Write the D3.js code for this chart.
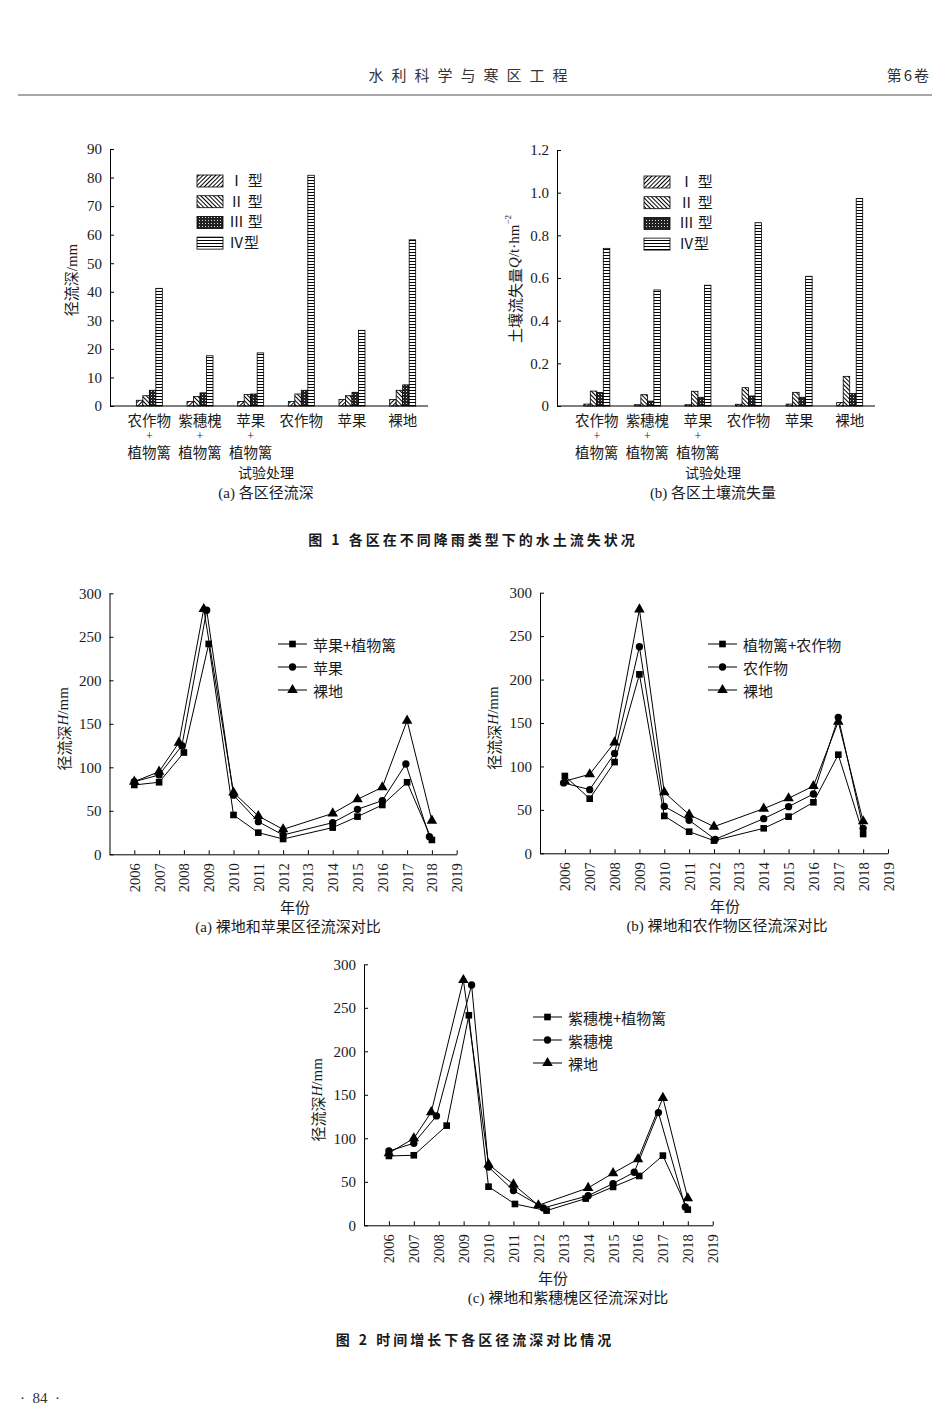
<!DOCTYPE html>
<html><head><meta charset="utf-8">
<script src="https://cdn.jsdelivr.net/npm/d3@7"></script>
<style>
body{margin:0;background:#fff}
text{font-family:"Liberation Serif","Noto Sans CJK SC",serif;fill:#1a1a1a}
</style>
</head><body><svg id="c" width="950" height="1426"></svg>
<script>
// ---------- DATA ----------
const barCategories = ["农作物+植物篱","紫穗槐+植物篱","苹果+植物篱","农作物","苹果","裸地"];
const barTypes = ["Ⅰ 型","Ⅱ 型","Ⅲ 型","Ⅳ型"];
const runoffTypeI   = [2.0, 1.6, 1.6, 1.6, 2.3, 2.3];
const runoffTypeII  = [3.6, 3.3, 4.0, 4.2, 3.6, 5.5];
const runoffTypeIII = [5.5, 4.6, 4.2, 5.5, 4.8, 7.4];
const runoffTypeIV  = [41.2, 17.6, 18.6, 80.8, 26.5, 58.2];
const soilTypeI   = [0.009, 0.006, 0.006, 0.008, 0.009, 0.016];
const soilTypeII  = [0.070, 0.053, 0.069, 0.086, 0.064, 0.139];
const soilTypeIII = [0.063, 0.023, 0.041, 0.047, 0.041, 0.058];
const soilTypeIV  = [0.739, 0.544, 0.566, 0.859, 0.608, 0.973];
const runoffTicks = [0,10,20,30,40,50,60,70,80,90];
const soilTicks = [0,0.2,0.4,0.6,0.8,1.0,1.2];

const yearTicks = [2006,2007,2008,2009,2010,2011,2012,2013,2014,2015,2016,2017,2018,2019];
const depthTicks = [0,50,100,150,200,250,300];

// Fig2 (a)
const aNames = ["苹果+植物篱","苹果","裸地"];
const aSquareYears = [2006,2007,2008,2009,2010,2011,2012,2014,2015,2016,2017,2018];
const aSquareVals  = [79.7,82.8,117,241.8,45.2,24.9,17.6,30.7,43.3,56.7,82.8,16.5];
const aCircleYears = [2006,2007,2007.92,2008.92,2010,2011,2012,2014,2015,2016,2016.95,2017.9];
const aCircleVals  = [83.5,91.2,124.9,280.5,68,37.5,22.2,36.4,51.7,61.7,103.8,20.3];
const aTriYears    = [2006,2007,2007.8,2008.8,2010,2011,2012,2014,2015,2016,2017,2018];
const aTriVals     = [83.5,95,128.4,282,71,44,28.7,47,63.2,77,153.6,38.7];

// Fig2 (b)
const bNames = ["植物篱+农作物","农作物","裸地"];
const bSquareYears = [2006,2007,2008,2009,2010,2011,2012,2014,2015,2016,2017,2018];
const bSquareVals  = [89,62.9,105,206,43,24.9,14.6,28.8,42.2,58.7,113.5,22.2];
const bCircleYears = [2005.95,2007,2008,2009,2010,2011,2012.05,2014,2015,2016,2017,2018];
const bCircleVals  = [81,73.3,115,237.8,54,38,16.1,39.9,53.7,68.3,156.5,28.8];
const bTriYears    = [2006,2007,2008,2009,2010,2011,2012,2014,2015,2016,2017,2018];
const bTriVals     = [83,91,127.7,280.8,70.2,44.5,30.7,51.4,63.3,77.5,151.5,36.8];

// Fig2 (c)
const cNames = ["紫穗槐+植物篱","紫穗槐","裸地"];
const cSquareYears = [2006,2007,2008.32,2009.21,2010,2011.06,2012.33,2013.9,2015,2016.05,2017,2018];
const cSquareVals  = [79.7,80.5,114.6,241.4,44.4,24.5,16.9,30.7,44.1,56.7,80.1,18];
const cCircleYears = [2006,2007,2007.91,2009.32,2010,2011,2012.2,2014,2015,2015.85,2016.82,2017.9];
const cCircleVals  = [85.4,94.3,125.7,276.2,67,40,20,34,48,61,129.6,21];
const cTriYears    = [2006,2007,2007.7,2008.99,2010,2011,2012,2014,2015,2016,2017,2018];
const cTriVals     = [83,100,130,282,70,47,23,43,60,76,146.5,31];

// ---------- DRAWING ----------
const svg = d3.select("#c");
const defs = svg.append("defs");
function linePattern(id, rot){
  const p = defs.append("pattern").attr("id",id).attr("patternUnits","userSpaceOnUse")
    .attr("width",3).attr("height",3).attr("patternTransform","rotate("+rot+")");
  p.append("rect").attr("width",3).attr("height",3).attr("fill","#fff");
  p.append("line").attr("x1",0.5).attr("y1",0).attr("x2",0.5).attr("y2",3).attr("stroke","#000").attr("stroke-width",1);
}
linePattern("pI",45);
linePattern("pII",-45);
{
  const p = defs.append("pattern").attr("id","pIII").attr("patternUnits","userSpaceOnUse").attr("width",3).attr("height",3);
  p.append("rect").attr("width",3).attr("height",3).attr("fill","#222");
  p.append("rect").attr("x",1).attr("y",1).attr("width",1).attr("height",1).attr("fill","#ddd");
}
linePattern("pIV",90);
const patterns = ["url(#pI)","url(#pII)","url(#pIII)","url(#pIV)"];

const CJK = '"Noto Sans CJK SC",sans-serif';
const MIX = '"Liberation Serif","Noto Sans CJK SC",serif';

// header
svg.append("text").attr("x",472).attr("y",74).attr("text-anchor","middle").attr("dominant-baseline","central")
  .style("font-size","15px").style("letter-spacing","8px").style("font-family",CJK).style("fill","#333")
  .text("水利科学与寒区工程");
svg.append("text").attr("x",931).attr("y",74).attr("text-anchor","end").attr("dominant-baseline","central")
  .style("font-size","15px").style("letter-spacing","2px").style("font-family",CJK).style("fill","#333")
  .text("第6卷");
svg.append("line").attr("x1",18).attr("x2",932).attr("y1",95).attr("y2",95).attr("stroke","#888").attr("stroke-width",1.5);

function barChart(cfg){
  const g = svg.append("g");
  const x = d3.scaleBand().domain(barCategories).range([cfg.bandStart, cfg.xEnd]).padding(0);
  const y = d3.scaleLinear().domain([0, cfg.max]).range([cfg.y0, cfg.yTop]);
  const sub = d3.scaleBand().domain(barTypes).range([-13,13]).padding(0);
  const series = cfg.series;
  barCategories.forEach((cat,i)=>{
    const cx = x(cat) + x.bandwidth()/2;
    barTypes.forEach((t,j)=>{
      const v = series[j][i];
      g.append("rect").attr("x",cx+sub(t)).attr("width",sub.bandwidth())
        .attr("y",y(v)).attr("height",cfg.y0 - y(v))
        .attr("fill",patterns[j]).attr("stroke","#000").attr("stroke-width",0.8);
    });
  });
  // y axis
  const ax = g.append("g").attr("transform","translate("+cfg.axisX+",0)")
    .call(d3.axisLeft(y).tickValues(cfg.ticks).tickSizeInner(-4).tickSizeOuter(0).tickPadding(8).tickFormat(cfg.fmt));
  ax.selectAll("text").style("font-size","15px").style("font-family",'"Liberation Serif",serif').attr("fill","#1a1a1a");
  ax.selectAll("line,path").attr("stroke","#000");
  // x axis line
  g.append("line").attr("x1",cfg.axisX).attr("x2",cfg.xEnd).attr("y1",cfg.y0).attr("y2",cfg.y0).attr("stroke","#000");
  // category labels
  barCategories.forEach(cat=>{
    const cx = x(cat) + x.bandwidth()/2;
    const parts = cat.split("+");
    g.append("text").attr("x",cx).attr("y",cfg.y0+13.5).attr("text-anchor","middle").attr("dominant-baseline","central")
      .style("font-size","14.5px").style("font-family",CJK).text(parts[0]);
    if(parts.length>1){
      g.append("text").attr("x",cx).attr("y",cfg.y0+29.5).attr("text-anchor","middle").attr("dominant-baseline","central")
        .style("font-size","12px").style("font-family",'"Liberation Serif",serif').text("+");
      g.append("text").attr("x",cx).attr("y",cfg.y0+45).attr("text-anchor","middle").attr("dominant-baseline","central")
        .style("font-size","14.5px").style("font-family",CJK).text(parts[1]);
    }
  });
  const mid = (cfg.axisX + cfg.xEnd)/2 - 3;
  g.append("text").attr("x",mid).attr("y",cfg.y0+65.8).attr("text-anchor","middle").attr("dominant-baseline","central")
    .style("font-size","14px").style("font-family",CJK).text("试验处理");
  g.append("text").attr("x",mid).attr("y",cfg.y0+87).attr("text-anchor","middle").attr("dominant-baseline","central")
    .style("font-size","15px").style("font-family",MIX).text(cfg.caption);
  // legend
  barTypes.forEach((t,j)=>{
    const yy = cfg.legY + j*20.7;
    g.append("rect").attr("x",cfg.legX).attr("y",yy).attr("width",26).attr("height",12)
      .attr("fill",patterns[j]).attr("stroke","#000").attr("stroke-width",0.8);
    g.append("text").attr("x",cfg.legX+cfg.legTextDx).attr("y",yy+6).attr("dominant-baseline","central")
      .style("font-size","15px").style("font-family",MIX).text(t);
  });
  // y label
  const yl = g.append("text").attr("transform","translate("+cfg.ylX+","+cfg.ylY+") rotate(-90)")
    .attr("text-anchor","middle").attr("dominant-baseline","central").style("font-size","15px").style("font-family",MIX);
  cfg.ylabel(yl);
}

barChart({axisX:110, xEnd:428, bandStart:124, y0:406, yTop:149, max:90, ticks:runoffTicks, fmt:d3.format("d"),
  series:[runoffTypeI,runoffTypeII,runoffTypeIII,runoffTypeIV], caption:"(a) 各区径流深",
  legX:197, legY:175, legTextDx:32, ylX:72, ylY:280,
  ylabel: t=>{ t.text("径流深/mm"); }});
barChart({axisX:557, xEnd:875, bandStart:571.5, y0:406, yTop:150, max:1.2, ticks:soilTicks,
  fmt:d=> d===0?"0":d3.format(".1f")(d),
  series:[soilTypeI,soilTypeII,soilTypeIII,soilTypeIV], caption:"(b) 各区土壤流失量",
  legX:644, legY:176, legTextDx:35, ylX:514, ylY:279,
  ylabel: t=>{ t.append("tspan").style("font-family",CJK).text("土壤流失量");
    t.append("tspan").style("font-style","italic").text("Q");
    t.append("tspan").text("/t·hm");
    t.append("tspan").attr("dy",-6).style("font-size","9px").text("−2"); }});

// Fig 1 title
svg.append("text").attr("x",473).attr("y",539).attr("text-anchor","middle").attr("dominant-baseline","central")
  .style("font-size","14px").style("font-weight","bold").style("letter-spacing","3px").style("font-family",CJK)
  .text("图 1    各区在不同降雨类型下的水土流失状况");

const symTypes = [d3.symbolSquare, d3.symbolCircle, d3.symbolTriangle];
const symSizes = [44, 42, 48];

function lineChart(cfg){
  const g = svg.append("g");
  const x = d3.scaleLinear().domain([2005,2019]).range([cfg.x0,cfg.x1]);
  const y = d3.scaleLinear().domain([0,300]).range([cfg.y0,cfg.yTop]);
  const line = d3.line().x(d=>x(d[0])).y(d=>y(d[1]));
  cfg.series.forEach((s,k)=>{
    const pts = s.years.map((yr,i)=>[yr,s.vals[i]]);
    g.append("path").attr("d",line(pts)).attr("fill","none").attr("stroke","#000").attr("stroke-width",1);
  });
  cfg.series.forEach((s,k)=>{
    const pts = s.years.map((yr,i)=>[yr,s.vals[i]]);
    g.selectAll(null).data(pts).enter().append("path")
      .attr("d",d3.symbol().type(symTypes[k]).size(symSizes[k]))
      .attr("transform",d=>"translate("+x(d[0])+","+y(d[1])+")").attr("fill","#000");
  });
  const ay = g.append("g").attr("transform","translate("+cfg.x0+",0)")
    .call(d3.axisLeft(y).tickValues(depthTicks).tickSizeInner(-4).tickSizeOuter(0).tickPadding(8));
  ay.selectAll("text").style("font-size","15px").style("font-family",'"Liberation Serif",serif').attr("fill","#1a1a1a");
  ay.selectAll("line,path").attr("stroke","#000");
  const axx = g.append("g").attr("transform","translate(0,"+cfg.y0+")")
    .call(d3.axisBottom(x).tickValues(yearTicks).tickSizeInner(-4).tickSizeOuter(0).tickFormat(d3.format("d")));
  axx.selectAll("line,path").attr("stroke","#000");
  axx.selectAll("text").attr("y",0).attr("dy",null)
    .attr("transform","translate(0,9) rotate(-90)").attr("text-anchor","end").attr("dominant-baseline","central")
    .style("font-size","14.5px").style("font-family",'"Liberation Serif",serif').attr("fill","#1a1a1a");
  g.append("text").attr("x",cfg.xlabX).attr("y",cfg.y0+52).attr("text-anchor","middle").attr("dominant-baseline","central")
    .style("font-size","15px").style("font-family",CJK).text("年份");
  g.append("text").attr("x",cfg.capX).attr("y",cfg.y0+72.5).attr("text-anchor","middle").attr("dominant-baseline","central")
    .style("font-size","15px").style("font-family",MIX).text(cfg.caption);
  // y label
  const yl = g.append("text").attr("transform","translate("+(cfg.x0-47)+","+((cfg.y0+cfg.yTop)/2+5)+") rotate(-90)")
    .attr("text-anchor","middle").attr("dominant-baseline","central").style("font-size","15px");
  yl.append("tspan").style("font-family",CJK).text("径流深");
  yl.append("tspan").style("font-style","italic").text("H");
  yl.append("tspan").text("/mm");
  // legend
  cfg.series.forEach((s,k)=>{
    const yy = cfg.legY + k*23;
    g.append("line").attr("x1",cfg.legX).attr("x2",cfg.legX+29).attr("y1",yy).attr("y2",yy).attr("stroke","#000");
    g.append("path").attr("d",d3.symbol().type(symTypes[k]).size(symSizes[k]))
      .attr("transform","translate("+(cfg.legX+14.5)+","+yy+")").attr("fill","#000");
    g.append("text").attr("x",cfg.legX+35).attr("y",yy).attr("dominant-baseline","central")
      .style("font-size","15px").style("font-family",CJK).text(s.name);
  });
}

lineChart({x0:109.5, x1:456.7, y0:854.3, yTop:593.3, legX:278, legY:644, xlabX:295, capX:288,
  caption:"(a) 裸地和苹果区径流深对比",
  series:[{name:aNames[0],years:aSquareYears,vals:aSquareVals},
          {name:aNames[1],years:aCircleYears,vals:aCircleVals},
          {name:aNames[2],years:aTriYears,vals:aTriVals}]});
lineChart({x0:540, x1:888, y0:853.3, yTop:592.7, legX:708, legY:644, xlabX:725, capX:727,
  caption:"(b) 裸地和农作物区径流深对比",
  series:[{name:bNames[0],years:bSquareYears,vals:bSquareVals},
          {name:bNames[1],years:bCircleYears,vals:bCircleVals},
          {name:bNames[2],years:bTriYears,vals:bTriVals}]});
lineChart({x0:364, x1:712.7, y0:1225.3, yTop:964.3, legX:533, legY:1017, xlabX:553, capX:568,
  caption:"(c) 裸地和紫穗槐区径流深对比",
  series:[{name:cNames[0],years:cSquareYears,vals:cSquareVals},
          {name:cNames[1],years:cCircleYears,vals:cCircleVals},
          {name:cNames[2],years:cTriYears,vals:cTriVals}]});

svg.append("text").attr("x",475).attr("y",1339).attr("text-anchor","middle").attr("dominant-baseline","central")
  .style("font-size","14px").style("font-weight","bold").style("letter-spacing","3px").style("font-family",CJK)
  .text("图 2    时间增长下各区径流深对比情况");

svg.append("text").attr("x",20).attr("y",1398).attr("dominant-baseline","central")
  .style("font-size","15px").style("fill","#333").style("white-space","pre").text("·  84  ·");
</script>
</body></html>
